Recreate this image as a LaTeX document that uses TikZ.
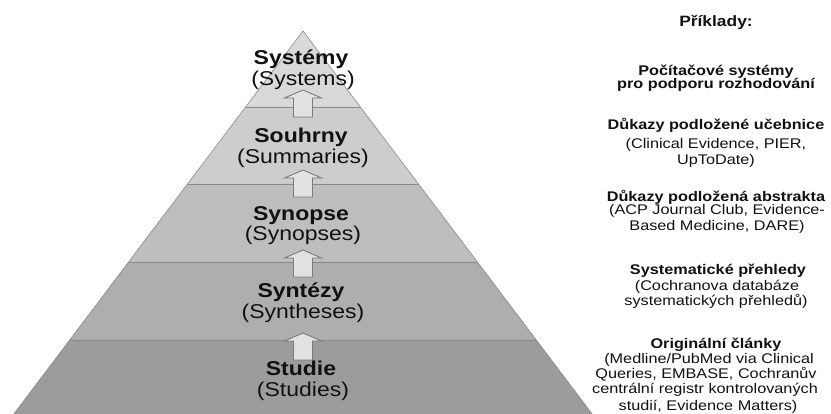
\documentclass[tikz,border=0pt]{standalone}
\usepackage{fontspec}
\newfontfamily\labfont[FakeStretch=1.15]{Liberation Sans}
\newfontfamily\exfont[FakeStretch=1.16]{Liberation Sans}
\definecolor{lay1}{HTML}{D9D9D9}
\definecolor{lay2}{HTML}{CDCDCD}
\definecolor{lay3}{HTML}{BEBEBE}
\definecolor{lay4}{HTML}{AEAEAE}
\definecolor{lay5}{HTML}{9C9C9C}
\definecolor{edgegray}{HTML}{8A8A8A}
\definecolor{arrfill}{HTML}{E2E2E2}
\definecolor{arrline}{HTML}{7A7A7A}
\definecolor{txt}{HTML}{111111}
\tikzset{
  boldlab/.style={anchor=base, inner sep=0pt, text=txt, font=\labfont\fontsize{20}{21}\selectfont\bfseries},
  reglab/.style={anchor=base, inner sep=0pt, text=txt, font=\labfont\fontsize{20}{21}\selectfont},
  exhead/.style={anchor=base, inner sep=0pt, text=txt, font=\exfont\fontsize{14}{15}\selectfont\bfseries},
  exline/.style={anchor=base, inner sep=0pt, text=txt, font=\exfont\fontsize{14}{15}\selectfont},
  bandline/.style={draw=edgegray, line width=0.9pt},
  uparrow/.pic={\draw[fill=arrfill, draw=arrline, line width=0.9pt, line join=miter]
      (-9.5,27) -- (-9.5,8) -- (-18.5,8) -- (0,0) -- (18.5,8) -- (9.5,8) -- (9.5,27) -- cycle;}
}
\begin{document}
\begin{tikzpicture}[x=1pt,y=-1pt]
\useasboundingbox[fill=white] (0,0) rectangle (831,414);
% pyramid bands
\fill[lay1] (303,31) -- (360.4,107) -- (245.6,107) -- cycle;
\fill[lay2] (245.6,107) -- (360.4,107) -- (418.5,184) -- (187.5,184) -- cycle;
\fill[lay3] (187.5,184) -- (418.5,184) -- (477.4,262) -- (128.6,262) -- cycle;
\fill[lay4] (128.6,262) -- (477.4,262) -- (536.3,340) -- (69.7,340) -- cycle;
\fill[lay5] (69.7,340) -- (536.3,340) -- (592.2,414) -- (13.8,414) -- cycle;
\draw[bandline] (245.6,107) -- (360.4,107);
\draw[bandline] (187.5,184) -- (418.5,184);
\draw[bandline] (128.6,262) -- (477.4,262);
\draw[bandline] (69.7,340) -- (536.3,340);
\draw[draw=edgegray, line width=0.6pt] (13.8,414) -- (303,31) -- (592.2,414);
% arrows
\pic at (303,90) {uparrow};
\pic at (303,170) {uparrow};
\pic at (303,250) {uparrow};
\pic at (303,333) {uparrow};
% pyramid labels
\node[boldlab] (sysb) at (301,65) {Systémy};
\node[reglab] (sysr) at (303,86) {(Systems)};
\node[boldlab] (sumb) at (301,143) {Souhrny};
\node[reglab] (sumr) at (303,164) {(Summaries)};
\node[boldlab] (synb) at (301,221) {Synopse};
\node[reglab] (synr) at (303,241) {(Synopses)};
\node[boldlab] (sntb) at (301,298) {Syntézy};
\node[reglab] (sntr) at (303,319) {(Syntheses)};
\node[boldlab] (stub) at (301,376) {Studie};
\node[reglab] (stur) at (303,397) {(Studies)};
% examples column
\node[exhead, font=\exfont\fontsize{15}{16}\selectfont\bfseries] (ex0) at (716,27) {Příklady:};
\node[exhead] (ex1a) at (716,76) {Počítačové systémy};
\node[exhead] (ex1b) at (716,89) {pro podporu rozhodování};
\node[exhead] (ex2a) at (716,130) {Důkazy podložené učebnice};
\node[exline] (ex2b) at (716,149) {(Clinical Evidence, PIER,};
\node[exline] (ex2c) at (716,165) {UpToDate)};
\node[exhead] (ex3a) at (716,202) {Důkazy podložená abstrakta};
\node[exline] (ex3b) at (717,215) {(ACP Journal Club, Evidence-};
\node[exline] (ex3c) at (717,231) {Based Medicine, DARE)};
\node[exhead] (ex4a) at (718,275) {Systematické přehledy};
\node[exline] (ex4b) at (717,291) {(Cochranova databáze};
\node[exline] (ex4c) at (716,306) {systematických přehledů)};
\node[exhead] (ex5a) at (716,349) {Originální články};
\node[exline] (ex5b) at (709,363) {(Medline/PubMed via Clinical};
\node[exline] (ex5c) at (706,379) {Queries, EMBASE, Cochranův};
\node[exline] (ex5d) at (705,394) {centrální registr kontrolovaných};
\node[exline] (ex5e) at (708,410) {studií, Evidence Matters)};
\end{tikzpicture}
\end{document}
